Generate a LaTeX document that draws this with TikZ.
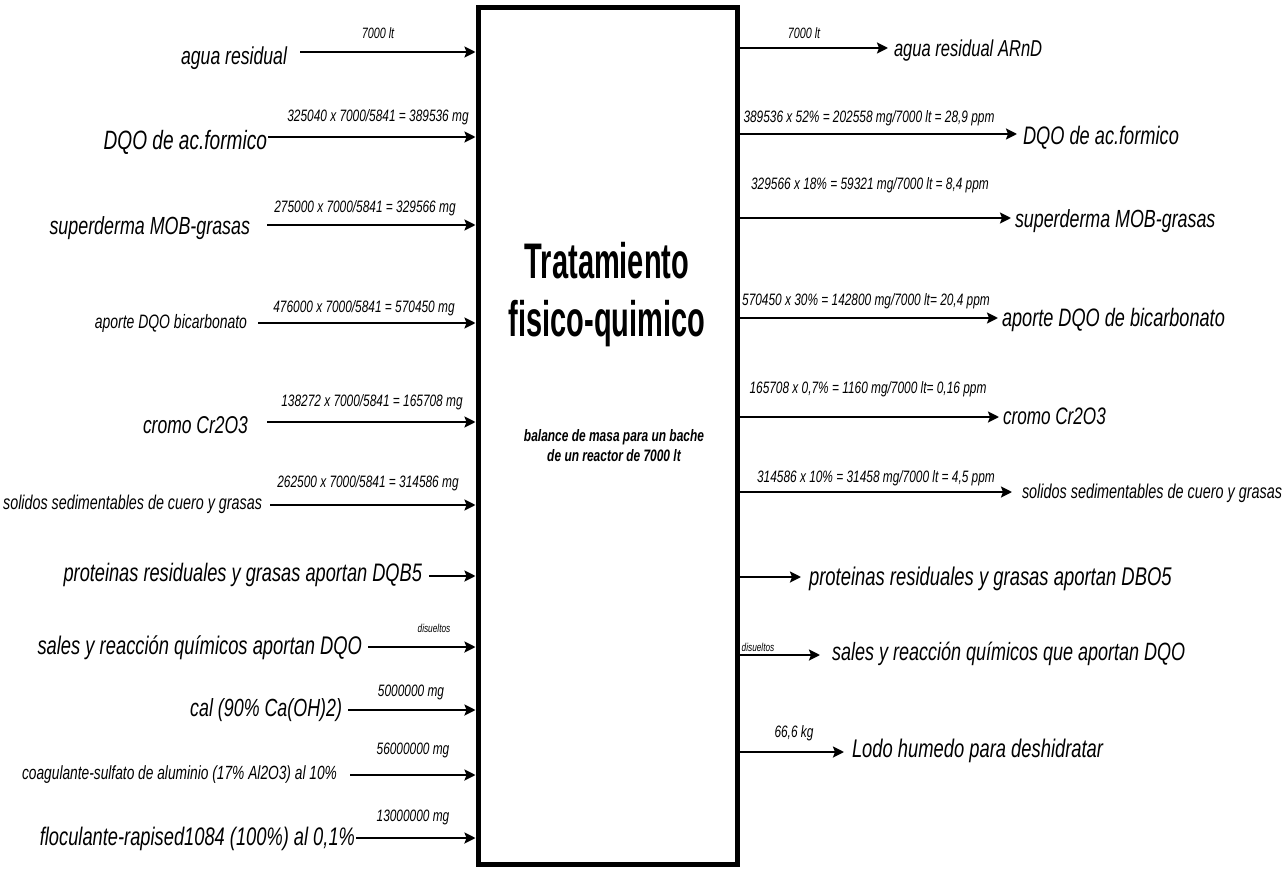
\documentclass[tikz,border=0pt]{standalone}
\usepackage{fontspec}
\setmainfont{Liberation Sans}
\newfontfamily\nar[FakeStretch=0.72]{Liberation Sans}
\newfontfamily\tnar[FakeStretch=0.58]{Liberation Sans}
\usetikzlibrary{arrows.meta}
\tikzset{
  txt/.style={inner sep=0pt, outer sep=0pt, font=\nar\itshape\fontsize{#1}{#1}\selectfont},
  txt/.default=25,
  lbl/.style={inner sep=0pt, outer sep=0pt, font=\nar\itshape\fontsize{#1}{#1}\selectfont},
  lbl/.default=16.5,
  flow/.style={line width=2.4pt, -{Stealth[length=11pt,width=11pt,inset=2pt]}},
  reactor/.style={draw, line width=5pt, inner sep=0pt},
}
\begin{document}
\begin{tikzpicture}[x=1pt,y=-1pt]
\useasboundingbox (0,0) rectangle (1288,869);
\fill[white] (0,0) rectangle (1288,869);

% reactor box
\node[reactor, minimum width=259pt, minimum height=856pt] (box) at (607.5,436) {};
\node[font=\tnar\bfseries\fontsize{50}{58}\selectfont, align=center, inner sep=0pt] (title) at (607,295) {Tratamiento\\fisico-quimico};
\node[font=\nar\bfseries\itshape\fontsize{16.6}{20}\selectfont, align=center, inner sep=0pt] (sub) at (614,446) {balance de masa para un bache\\de un reactor de 7000 lt};

% ---------------- inputs (left) ----------------
\node[txt=24.5, anchor=base east] (L1) at (287,65) {agua residual};
\coordinate (a1) at (300,52);
\draw[flow] (a1) -- (a1 -| box.west);
\node[lbl=15] (l1) at (378,33) {7000 lt};

\node[txt=26.5, anchor=base east] (L2) at (267,150) {DQO de ac.formico};
\coordinate (a2) at (268,137);
\draw[flow] (a2) -- (a2 -| box.west);
\node[lbl] (l2) at (378,117) {325040 x 7000/5841 = 389536 mg};

\node[txt=24.8, anchor=base east] (L3) at (250,235) {superderma MOB-grasas};
\coordinate (a3) at (267,225);
\draw[flow] (a3) -- (a3 -| box.west);
\node[lbl] (l3) at (365,208) {275000 x 7000/5841 = 329566 mg};

\node[txt=19.4, anchor=base east] (L4) at (247,328) {aporte DQO bicarbonato};
\coordinate (a4) at (258,323);
\draw[flow] (a4) -- (a4 -| box.west);
\node[lbl] (l4) at (364,308) {476000 x 7000/5841 = 570450 mg};

\node[txt=24.3, anchor=base east] (L5) at (248,433) {cromo Cr2O3};
\coordinate (a5) at (267,422);
\draw[flow] (a5) -- (a5 -| box.west);
\node[lbl] (l5) at (372,402) {138272 x 7000/5841 = 165708 mg};

\node[txt=19.9, anchor=base east] (L6) at (262,509) {solidos sedimentables de cuero y grasas};
\coordinate (a6) at (270,505);
\draw[flow] (a6) -- (a6 -| box.west);
\node[lbl] (l6) at (368,483) {262500 x 7000/5841 = 314586 mg};

\node[txt=25.3, anchor=base east] (L7) at (422,581) {proteinas residuales y grasas aportan DQB5};
\coordinate (a7) at (429,576);
\draw[flow] (a7) -- (a7 -| box.west);

\node[txt=25.5, anchor=base east] (L8) at (362,654) {sales y reacción químicos aportan DQO};
\coordinate (a8) at (368,647);
\draw[flow] (a8) -- (a8 -| box.west);
\node[lbl=11.5] (l8) at (434,628) {disueltos};

\node[txt=24.8, anchor=base east] (L9) at (342,716) {cal (90\% Ca(OH)2)};
\coordinate (a9) at (348,710);
\draw[flow] (a9) -- (a9 -| box.west);
\node[lbl] (l9) at (411,692) {5000000 mg};

\node[txt=19.1, anchor=base east] (L10) at (337,779) {coagulante-sulfato de aluminio (17\% Al2O3) al 10\%};
\coordinate (a10) at (350,775);
\draw[flow] (a10) -- (a10 -| box.west);
\node[lbl] (l10) at (413,750) {56000000 mg};

\node[txt=25.4, anchor=base east] (L11) at (355,845) {floculante-rapised1084 (100\%) al 0,1\%};
\coordinate (a11) at (356,838);
\draw[flow] (a11) -- (a11 -| box.west);
\node[lbl] (l11) at (413,817) {13000000 mg};

% ---------------- outputs (right) ----------------
\node[txt=23, anchor=base west] (R1) at (894,57) {agua residual ARnD};
\draw[flow] (box.east |- 0,48) -- ([xshift=-6pt]R1.west |- 0,48);
\node[lbl=15] (r1) at (804,33) {7000 lt};

\node[txt=25.3, anchor=base west] (R2) at (1023,145) {DQO de ac.formico};
\draw[flow] (box.east |- 0,134) -- ([xshift=-6pt]R2.west |- 0,134);
\node[lbl] (r2) at (869,118) {389536 x 52\% = 202558 mg/7000 lt = 28,9 ppm};

\node[txt=24.8, anchor=base west] (R3) at (1015,228) {superderma MOB-grasas};
\draw[flow] (box.east |- 0,218) -- ([xshift=-4pt]R3.west |- 0,218);
\node[lbl] (r3) at (870,185) {329566 x 18\% = 59321 mg/7000 lt = 8,4 ppm};

\node[txt=25.2, anchor=base west] (R4) at (1002,326) {aporte DQO de bicarbonato};
\draw[flow] (box.east |- 0,318) -- ([xshift=-4pt]R4.west |- 0,318);
\node[lbl] (r4) at (866,301) {570450 x 30\% = 142800 mg/7000 lt= 20,4 ppm};

\node[txt=23.8, anchor=base west] (R5) at (1003,424) {cromo Cr2O3};
\draw[flow] (box.east |- 0,417) -- ([xshift=-4pt]R5.west |- 0,417);
\node[lbl] (r5) at (868,389) {165708 x 0,7\% = 1160 mg/7000 lt= 0,16 ppm};

\node[txt=20, anchor=base west] (R6) at (1022,498) {solidos sedimentables de cuero y grasas};
\draw[flow] (box.east |- 0,492) -- ([xshift=-10pt]R6.west |- 0,492);
\node[lbl] (r6) at (876,478) {314586 x 10\% = 31458 mg/7000 lt = 4,5 ppm};

\node[txt=25.6, anchor=base west] (R7) at (809,585) {proteinas residuales y grasas aportan DBO5};
\draw[flow] (box.east |- 0,577) -- ([xshift=-8pt]R7.west |- 0,577);

\node[txt=25, anchor=base west] (R8) at (832,660) {sales y reacción químicos que aportan DQO};
\draw[flow] (box.east |- 0,655) -- ([xshift=-12pt]R8.west |- 0,655);
\node[lbl=11.5] (r8) at (758,647) {disueltos};

\node[txt=25.5, anchor=base west] (R9) at (852,757) {Lodo humedo para deshidratar};
\draw[flow] (box.east |- 0,752) -- ([xshift=-8pt]R9.west |- 0,752);
\node[lbl] (r9) at (794,733) {66,6 kg};
\end{tikzpicture}
\end{document}
